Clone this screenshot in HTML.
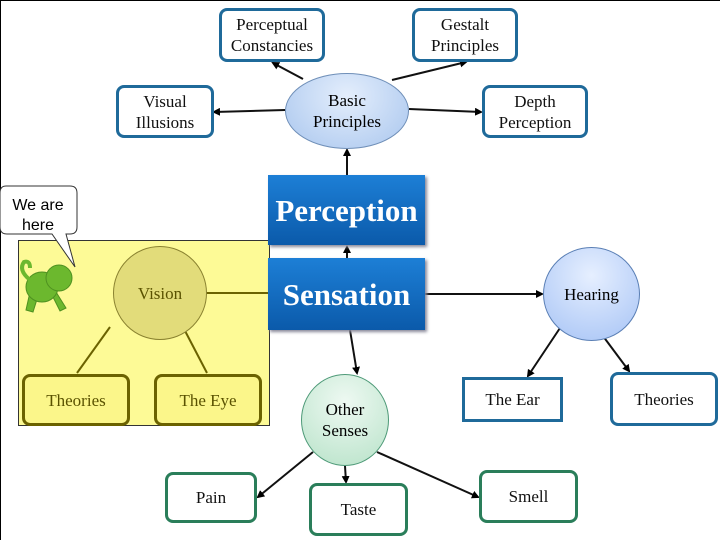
<!DOCTYPE html>
<html><head><style>
body{margin:0;width:720px;height:540px;background:#fff;position:relative;overflow:hidden;font-family:"Liberation Serif",serif;}
.b{position:absolute;box-sizing:border-box;display:flex;align-items:center;justify-content:center;text-align:center;font-size:17px;line-height:21px;color:#111;background:#fff}
.blue{border:3px solid #1f6a9a;border-radius:8px}
.green{border:3px solid #2a7e5a;border-radius:8px}
.ol{border:3px solid #6b6200;border-radius:8px;background:#fbf68a;color:#5a5200}
.big{background:linear-gradient(#1d7fd6,#0b5aaa);color:#fff;font-weight:bold;font-size:31px;box-shadow:2px 2px 3px #889}
.c{position:absolute;box-sizing:border-box;border-radius:50%;display:flex;align-items:center;justify-content:center;text-align:center;font-size:17px;line-height:21px}
</style></head><body>
<div style="position:absolute;left:0;top:0;width:720px;height:1px;background:#000"></div>
<div style="position:absolute;left:0;top:0;width:1px;height:540px;background:#000"></div>
<div style="position:absolute;left:18px;top:240px;width:252px;height:186px;background:#fdfa96;border:1px solid #333;box-sizing:border-box"></div>
<svg style="position:absolute;left:0;top:0" width="720" height="540">
<defs><marker id="a" markerWidth="4" markerHeight="4" refX="3" refY="2" orient="auto"><path d="M0,0L4,2L0,4z" fill="#000"/></marker></defs>
<g stroke="#111" stroke-width="2" fill="none">
<line x1="303" y1="79" x2="273" y2="63" marker-end="url(#a)"/>
<line x1="392" y1="80" x2="466" y2="62" marker-end="url(#a)"/>
<line x1="285" y1="110" x2="214" y2="112" marker-end="url(#a)"/>
<line x1="409" y1="109" x2="481" y2="112" marker-end="url(#a)"/>
<line x1="347" y1="175" x2="347" y2="150" marker-end="url(#a)"/>
<line x1="347" y1="258" x2="347" y2="247" marker-end="url(#a)"/>
<line x1="425" y1="294" x2="542" y2="294" marker-end="url(#a)"/>
<line x1="350" y1="330" x2="357" y2="373" marker-end="url(#a)"/>
<line x1="560" y1="328" x2="528" y2="376" marker-end="url(#a)"/>
<line x1="597" y1="328" x2="629" y2="371" marker-end="url(#a)"/>
<line x1="313" y1="452" x2="258" y2="497" marker-end="url(#a)"/>
<line x1="345" y1="466" x2="346" y2="482" marker-end="url(#a)"/>
<line x1="377" y1="452" x2="478" y2="497" marker-end="url(#a)"/>
</g>
<g stroke="#6b6200" stroke-width="2">
<line x1="268" y1="293" x2="199" y2="293"/>
<line x1="110" y1="327" x2="77" y2="373"/>
<line x1="183" y1="327" x2="207" y2="373"/>
</g>
<path d="M6,186 H70 Q77,186 77,193 V227 Q77,234 70,234 H66 L75,267 L52,234 H7 Q0,234 0,227 V193 Q0,186 6,186Z" fill="#fff" stroke="#333" stroke-width="1"/>
<g fill="#6cb82e" stroke="#4e9020" stroke-width="1">
<path d="M30,292 L26,310 L33,312 L38,296Z M52,295 L60,311 L66,308 L56,292Z"/>
<ellipse cx="42" cy="287" rx="16" ry="15"/>
<circle cx="59" cy="278" r="13"/>
<path d="M30,280 Q18,270 24,262 Q30,260 30,268" fill="none" stroke="#6cb82e" stroke-width="4"/>
</g>
<text x="38" y="210" font-family="Liberation Sans" font-size="16" text-anchor="middle">We are</text>
<text x="38" y="230" font-family="Liberation Sans" font-size="16" text-anchor="middle">here</text>
</svg>
<div class="b blue" style="left:219px;top:8px;width:106px;height:54px">Perceptual<br>Constancies</div>
<div class="b blue" style="left:412px;top:8px;width:106px;height:54px">Gestalt<br>Principles</div>
<div class="b blue" style="left:116px;top:85px;width:98px;height:53px">Visual<br>Illusions</div>
<div class="b blue" style="left:482px;top:85px;width:106px;height:53px">Depth<br>Perception</div>
<div class="c" style="left:285px;top:73px;width:124px;height:76px;background:radial-gradient(ellipse at 50% 30%,#e4eefc,#a9c6ee);border:1px solid #6f8fb8">Basic<br>Principles</div>
<div class="b big" style="left:268px;top:175px;width:157px;height:70px">Perception</div>
<div class="b big" style="left:268px;top:258px;width:157px;height:72px">Sensation</div>
<div class="c" style="left:113px;top:246px;width:94px;height:94px;background:#e2dc7a;border:1px solid #8a8230;color:#5a5200">Vision</div>
<div class="b ol" style="left:22px;top:374px;width:108px;height:52px">Theories</div>
<div class="b ol" style="left:154px;top:374px;width:108px;height:52px">The Eye</div>
<div class="c" style="left:543px;top:247px;width:97px;height:94px;background:radial-gradient(circle at 50% 30%,#e6efff,#a6c3f5);border:1px solid #5a7fb5">Hearing</div>
<div class="b blue" style="left:462px;top:377px;width:101px;height:45px;border-radius:0">The Ear</div>
<div class="b blue" style="left:610px;top:372px;width:108px;height:54px">Theories</div>
<div class="c" style="left:301px;top:374px;width:88px;height:92px;background:radial-gradient(circle at 50% 30%,#eef9f2,#b7e2c8);border:1px solid #4e9a78">Other<br>Senses</div>
<div class="b green" style="left:165px;top:472px;width:92px;height:51px">Pain</div>
<div class="b green" style="left:309px;top:483px;width:99px;height:53px">Taste</div>
<div class="b green" style="left:479px;top:470px;width:99px;height:53px">Smell</div>
</body></html>
